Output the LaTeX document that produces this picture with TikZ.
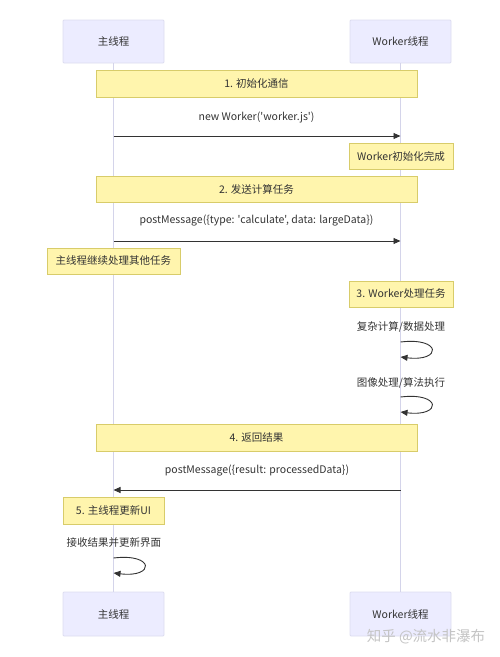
\documentclass[tikz,border=0pt]{standalone}
\usepackage{fontspec}
\newfontfamily\cjkf{Noto Sans CJK SC}
\usetikzlibrary{arrows.meta}
\definecolor{actfill}{HTML}{ECECFF}
\definecolor{actdraw}{HTML}{DCDCF0}
\definecolor{notefill}{HTML}{FFF5AD}
\definecolor{notedraw}{HTML}{D8CC6A}
\definecolor{txt}{HTML}{333333}
\definecolor{life}{HTML}{D4D4EA}
\definecolor{wm}{HTML}{C4C4C4}
\tikzset{
  actor/.style={draw=actdraw, fill=actfill, line width=0.8pt, minimum width=101pt, minimum height=43pt, inner sep=0pt, font=\cjkf\fontsize{10.5}{12}\selectfont, text=txt, rounded corners=1pt},
  notebox/.style={draw=notedraw, fill=notefill, line width=0.8pt, minimum height=26pt, inner sep=0pt, font=\cjkf\fontsize{10.5}{12}\selectfont, text=txt},
  msgtext/.style={font=\cjkf\fontsize{10.5}{12}\selectfont, text=txt, inner sep=0pt},
  lifeline/.style={draw=life, line width=0.9pt},
  msg/.style={draw=txt, line width=0.9pt, -{Triangle[length=7pt,width=6pt]}},
}
\begin{document}
\begin{tikzpicture}[x=1pt,y=-1pt]
\useasboundingbox (0,0) rectangle (500,657);
% participants
\node[actor] (mt) at (113.5,41.5) {主线程};
\node[actor] (wt) at (400.5,41.5) {Worker线程};
\node[actor, minimum height=44pt] (mb) at (113.5,614) {主线程};
\node[actor, minimum height=44pt] (wb) at (400.5,614) {Worker线程};
% lifelines
\draw[lifeline] (mt.south) -- (mb.north);
\draw[lifeline] (wt.south) -- (wb.north);
% notes
\node[notebox, minimum width=321pt, minimum height=27pt] (n1) at (256.5,83.5) {1. 初始化通信};
\node[msgtext] (t1) at (256.5,117) {new Worker('worker.js')};
\coordinate (a1) at (113.5,136);
\coordinate (b1) at (400.5,136);
\draw[msg] (a1) -- (b1);
\node[notebox, minimum width=104pt] (n1b) at (401,156) {Worker初始化完成};
\node[notebox, minimum width=321pt] (n2) at (256.5,189) {2. 发送计算任务};
\node[msgtext] (t2) at (256.5,221) {postMessage(\{type: 'calculate', data: largeData\})};
\coordinate (a2) at (113.5,241);
\coordinate (b2) at (400.5,241);
\draw[msg] (a2) -- (b2);
\node[notebox, minimum width=133pt] (n2b) at (113.5,261) {主线程继续处理其他任务};
\node[notebox, minimum width=104pt] (n3) at (401,294) {3. Worker处理任务};
\node[msgtext] (t3) at (401,327) {复杂计算/数据处理};
\coordinate (s3a) at (400.5,342);
\coordinate (s3b) at (400.5,357);
\draw[msg] (s3a) .. controls (442,337) and (442,362) .. (s3b);
\node[msgtext] (t4) at (401,383) {图像处理/算法执行};
\coordinate (s4a) at (400.5,397);
\coordinate (s4b) at (400.5,412);
\draw[msg] (s4a) .. controls (442,392) and (442,417) .. (s4b);
\node[notebox, minimum width=321pt, minimum height=27pt] (n4) at (256.5,437.5) {4. 返回结果};
\node[msgtext] (t5) at (257,471) {postMessage(\{result: processedData\})};
\coordinate (a5) at (400.5,490);
\coordinate (b5) at (113.5,490);
\draw[msg] (a5) -- (b5);
\node[notebox, minimum width=101pt, minimum height=27pt] (n5) at (113.5,510.5) {5. 主线程更新UI};
\node[msgtext] (t6) at (114,543) {接收结果并更新界面};
\coordinate (s6a) at (113.5,558);
\coordinate (s6b) at (113.5,573);
\draw[msg] (s6a) .. controls (155,553) and (155,578) .. (s6b);
% watermark
\node[font=\cjkf\fontsize{14.5}{16}\selectfont, text=wm, inner sep=0pt] (wmk) at (426,637) {知乎 @流水非瀑布};
\end{tikzpicture}
\end{document}
